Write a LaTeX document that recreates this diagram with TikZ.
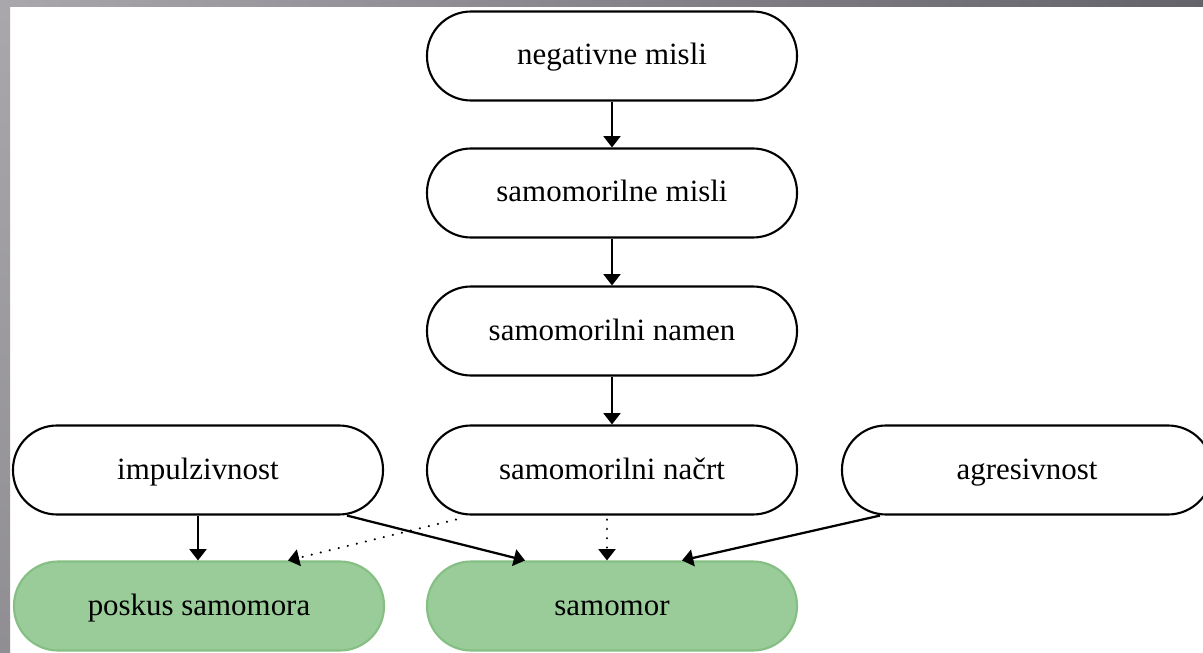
\documentclass[tikz,border=0pt]{standalone}
\usepackage{fontspec}
\setmainfont{Liberation Serif}
\usetikzlibrary{calc,arrows.meta}
\definecolor{framelight}{HTML}{A9A7AC}
\definecolor{framedark}{HTML}{65636A}
\definecolor{goalfill}{HTML}{99CC98}
\definecolor{goaldraw}{HTML}{85BF84}
\tikzset{
	box/.style={draw=black, line width=1.5pt, rectangle, rounded corners=1.1cm,
		minimum width=9.25cm, minimum height=2.225cm, fill=white,
		text height=0.58cm, text depth=0.13cm,
		font=\fontsize{22}{26}\selectfont},
	goal/.style={box, draw=goaldraw, fill=goalfill},
	arr/.style={line width=1.6pt, -{Triangle[width=0.42cm,length=0.28cm]}},
	maybe/.style={arr, line cap=round, dash pattern=on 0.1pt off 6.5pt}
}

\begin{document}
\begin{tikzpicture}
		%%%%% START %%%%%
		\useasboundingbox (0, 0) rectangle (30.075, 16.3);
		\clip (0, 0) rectangle (30.075, 16.3);
		\fill[white] (0, 0) rectangle (30.075, 16.3);
		\shade[left color=framelight, right color=framedark] (0, 16.125) rectangle (30.075, 16.3);
		\shade[top color=framelight, bottom color=framelight!85!black] (0, 0) rectangle (0.25, 16.125);
		
		\node[box] (neg) at (15.3, 14.9) {negativne misli};
		\node[box] (smisli) at (15.3, 11.475) {samomorilne misli};
		\node[box] (snamen) at (15.3, 8.025) {samomorilni namen};
		\node[box] (snacrt) at (15.3, 4.55) {samomorilni načrt};
		\node[box] (imp) at (4.95, 4.55) {impulzivnost};
		\node[box] (agr) at (25.675, 4.55) {agresivnost};
		
		\node[goal] (pos) at (4.975, 1.15) {poskus samomora};
		\node[goal] (sam) at (15.3, 1.15) {samomor};
		
		\draw[arr] (neg) -- (smisli);
		\draw[arr] (smisli) -- (snamen);
		\draw[arr] (snamen) -- (snacrt);
		
		\draw[arr] (imp.south) -- (imp.south |- pos.north);
		\draw[arr] ($(imp.south)+(3.725, 0)$) -- ($(sam.north)+(-2.175, 0)$);
		\draw[maybe] ($(snacrt.south)+(-3.9, -0.1)$) -- ($(pos.north)+(2.225, 0)$);
		\draw[maybe] ($(snacrt.south)+(-0.125, -0.1)$) -- ($(sam.north)+(-0.125, 0)$);
		\draw[arr] ($(agr.south)+(-3.675, 0)$) -- ($(sam.north)+(1.75, 0)$);
		%%%%% END %%%%%
	\end{tikzpicture}
\end{document}
